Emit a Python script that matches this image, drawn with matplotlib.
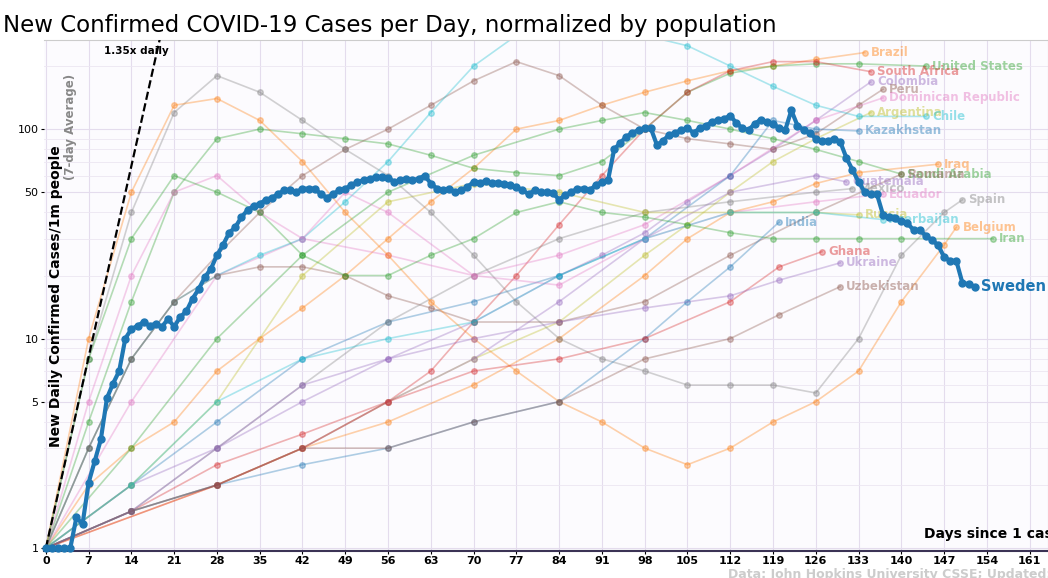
import matplotlib
matplotlib.use("Agg")
import matplotlib.pyplot as plt
import numpy as np

sweden = [1,1,1,1,1,1.4,1.3,2.05,2.6,3.3,5.2,6.1,7,10,11.1,11.5,12,11.5,11.8,11.4,12.4,11.4,12.7,13.5,15.5,17.2,19.6,21.5,25,28,32,34,38,41,43,44,46,47,49,51,51,50,52,52,52,49,47,49,51,52,54,56,57,58,59,59,58.5,56,57,58,57,58,60,55,52,51,52,50,51,53,56,55.5,56.5,55.5,55.5,54.5,54,53,51,49,51,50,50,49.5,46,48.5,50,52,52,51,54,56,57,80,86,92,96,99,101,101,84,88,94,96,99,101,96,101,104,108,111,112,116,107,101,99,106,111,108,106,101,99,123,104,99,96,90,88,88,90,87,73,64,56,50,49,49,39,38,37.5,36.5,35.5,33,33,31,29.5,28,24.5,23.5,23.5,18.4,18.2,17.7]

countries = {
 # name: (color, days, values)
 "Brazil": ("#ff7f0e", [0,7,14,21,28,35,42,49,56,63,70,77,84,91,98,105,112,119,126,134], [1,2,3,4,7,10,14,20,30,45,65,100,110,130,150,170,190,200,215,232]),
 "United States": ("#2ca02c", [0,7,14,21,28,35,42,49,56,63,70,77,84,91,98,105,112,119,126,133,144], [1,4,15,50,90,100,95,90,85,75,65,62,60,70,100,150,185,200,205,205,200]),
 "South Africa": ("#d62728", [0,14,28,42,56,63,70,77,84,91,98,105,112,119,126,135], [1,1.5,2.5,3.5,5,7,12,20,35,60,100,150,190,210,210,188]),
 "Colombia": ("#9467bd", [0,14,28,42,56,70,84,91,98,105,112,119,126,135], [1,2,3,5,8,12,20,25,32,45,60,80,110,168]),
 "Peru": ("#8c564b", [0,7,14,21,28,35,42,49,56,63,70,77,84,91,98,105,112,119,126,133,137], [1,3,8,15,25,40,60,80,100,130,170,210,180,130,100,90,85,80,95,130,155]),
 "Dominican Republic": ("#e377c2", [0,14,28,42,56,70,84,98,112,126,137], [1,5,20,30,25,20,25,35,60,110,141]),
 "Argentina": ("#bcbd22", [0,14,28,42,56,70,84,98,105,112,119,126,135], [1,1.5,2,3,5,8,12,25,35,50,70,90,120]),
 "Chile": ("#17becf", [0,7,14,21,28,35,42,49,56,63,70,77,84,91,98,105,112,119,126,133,144], [1,3,8,15,20,25,30,45,70,120,200,280,320,300,280,250,200,160,130,115,115]),
 "Kazakhstan": ("#1f77b4", [0,14,28,42,56,70,84,98,112,119,126,133], [1,2,4,8,12,15,20,30,60,110,100,98]),
 "Iraq": ("#ff7f0e", [0,28,42,56,70,84,98,105,112,119,126,133,146], [1,2,3,4,6,10,20,30,40,45,55,62,68]),
 "Saudi Arabia": ("#2ca02c", [0,14,28,42,56,70,84,91,98,105,112,119,126,133,140], [1,3,10,25,50,75,100,110,120,110,100,90,80,70,61]),
 "Romania": ("#8c564b", [0,7,14,21,28,35,42,49,56,63,70,84,98,112,126,140], [1,3,8,15,20,22,22,20,16,14,12,12,15,25,40,61]),
 "Guatemala": ("#9467bd", [0,14,28,42,56,70,84,98,112,126,131], [1,1.5,2,3,5,8,15,30,50,60,56]),
 "Mexico": ("#7f7f7f", [0,14,28,42,56,70,84,98,112,126,132], [1,1.5,3,6,12,20,30,40,45,50,52]),
 "Ecuador": ("#e377c2", [0,7,14,21,28,35,42,49,56,70,84,98,112,126,137], [1,5,20,50,60,40,30,50,40,20,18,30,40,45,49]),
 "Russia": ("#bcbd22", [0,14,28,42,56,70,84,98,112,126,133], [1,2,5,20,45,55,50,40,40,40,39]),
 "Azerbaijan": ("#17becf", [0,14,28,42,56,70,84,98,112,126,137], [1,2,5,8,10,12,20,30,40,40,37]),
 "Spain": ("#7f7f7f", [0,7,14,21,28,35,42,49,56,63,70,77,84,91,98,105,112,119,126,133,140,147,150], [1,8,40,120,180,150,110,80,60,40,25,15,10,8,7,6,6,6,5.5,10,25,40,46]),
 "Belgium": ("#ff7f0e", [0,7,14,21,28,35,42,49,56,63,70,77,84,91,98,105,112,119,126,133,140,147,149], [1,10,50,130,140,110,70,40,25,15,10,7,5,4,3,2.5,3,4,5,7,15,28,34]),
 "Iran": ("#2ca02c", [0,7,14,21,28,35,42,49,56,63,70,77,84,91,98,105,112,119,126,133,140,155], [1,8,30,60,50,40,25,20,20,25,30,40,45,40,38,35,32,30,30,30,30,30]),
 "India": ("#1f77b4", [0,14,28,42,56,70,84,98,105,112,120], [1,1.5,2,2.5,3,4,5,10,15,22,36]),
 "Ghana": ("#d62728", [0,28,42,56,70,84,98,112,120,127], [1,2,3,5,7,8,10,15,22,26]),
 "Ukraine": ("#9467bd", [0,14,28,42,56,70,84,98,112,120,130], [1,1.5,3,6,8,10,12,14,16,19,23]),
 "Uzbekistan": ("#8c564b", [0,14,28,42,56,70,84,98,112,120,130], [1,1.5,2,3,3,4,5,8,10,13,17.7]),
}

xticks = list(range(0, 162, 7))

fig = plt.figure(figsize=(10.48, 5.78), dpi=100)
fig.patch.set_facecolor("white")
ax = fig.add_axes([0.042, 0.047, 0.958, 0.883])
ax.set_facecolor("#fcfbfe")
ax.set_yscale("log")
ax.set_ylim(0.97, 265)
ax.set_xlim(-0.3, 164)

for name, (c, d, v) in countries.items():
    ax.plot(d, v, color=c, alpha=0.35, lw=1.2, marker="o", ms=4, zorder=2)
    ax.text(d[-1] + 1, v[-1], name, color=c, alpha=0.45, fontsize=8.5,
            fontweight="bold", va="center", ha="left", zorder=3)

days = np.arange(len(sweden))
ax.plot(days, sweden, color="#1f77b4", lw=3, marker="o", ms=5, zorder=5, clip_on=False)
ax.text(days[-1] + 1, sweden[-1], "Sweden", color="#1f77b4", fontsize=10.5,
        fontweight="bold", va="center", ha="left", zorder=6)

gd = np.arange(0, 20)
ax.plot(gd, 1.35 ** gd, "k--", lw=1.6, zorder=4)
ax.text(9.5, 235, "1.35x daily", fontsize=7.5, fontweight="bold", ha="left", va="center")

ax.set_xticks(xticks)
ax.set_xticklabels([str(t) for t in xticks], fontsize=8, fontweight="bold")
ax.set_yticks([1, 5, 10, 50, 100])
ax.set_yticklabels(["1", "5", "10", "50", "100"], fontsize=8)
ax.minorticks_on()
ax.xaxis.set_minor_locator(matplotlib.ticker.NullLocator())
ax.grid(True, which="major", color="#e4dced", lw=0.8)
ax.grid(True, which="minor", axis="y", color="#ece6f2", lw=0.6)
ax.tick_params(which="minor", length=0)
ax.tick_params(which="major", length=2, pad=2)
for s in ["top", "right", "left"]:
    ax.spines[s].set_color("#cccccc")
ax.spines["bottom"].set_color("#3b3355")
ax.spines["bottom"].set_linewidth(1.5)
ax.spines["left"].set_visible(False)

ax.text(0.012, 0.5, "New Daily Confirmed Cases/1m people", transform=ax.transAxes,
        rotation=90, fontsize=10, fontweight="bold", ha="center", va="center")
ax.text(0.026, 0.83, "(7-day Average)", transform=ax.transAxes,
        rotation=90, fontsize=8.5, fontweight="bold", color="#888888", ha="center", va="center")
ax.text(0.876, 0.02, "Days since 1 case/1m people", transform=ax.transAxes,
        fontsize=10, fontweight="bold", ha="left", va="bottom")
fig.text(0.003, 0.975, "New Confirmed COVID-19 Cases per Day, normalized by population",
         fontsize=16.5, ha="left", va="top")
fig.text(0.695, -0.005, "Data: John Hopkins University CSSE; Updated: 07/21/2020",
         fontsize=9, color="#cccccc", fontweight="bold", ha="left", va="bottom")

fig.savefig("out.png", dpi=100)
